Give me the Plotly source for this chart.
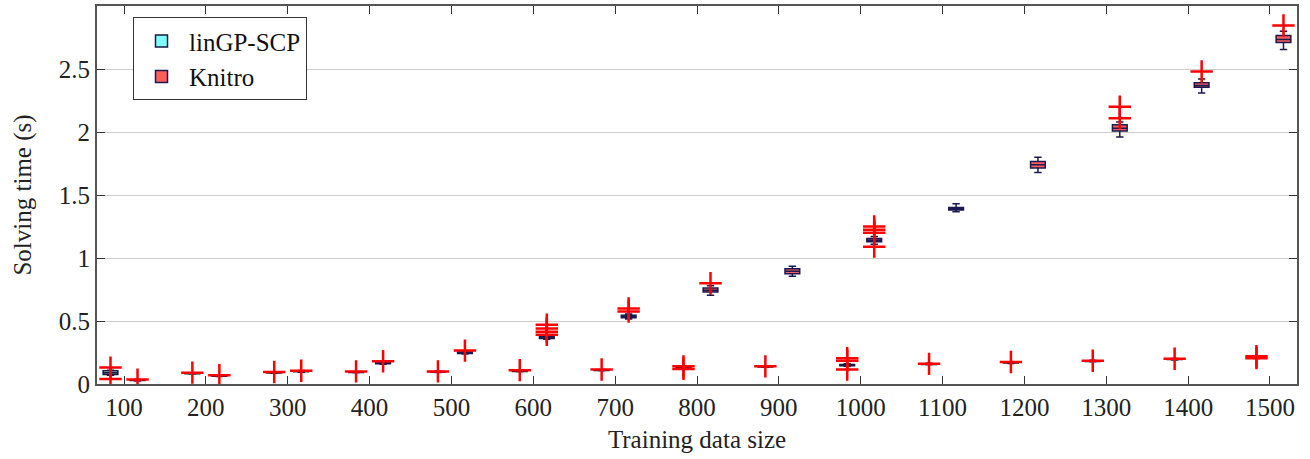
import plotly.graph_objects as go

sizes = [100, 200, 300, 400, 500, 600, 700, 800, 900, 1000, 1100, 1200, 1300, 1400, 1500]

# linGP-SCP box statistics (s)
lin_median = [0.090, 0.085, 0.090, 0.095, 0.097, 0.103, 0.110, 0.130, 0.137, 0.150, 0.158, 0.169, 0.182, 0.197, 0.210]
lin_q1 = [0.075, 0.082, 0.087, 0.092, 0.094, 0.100, 0.107, 0.126, 0.134, 0.145, 0.155, 0.166, 0.179, 0.194, 0.206]
lin_q3 = [0.105, 0.088, 0.093, 0.098, 0.100, 0.106, 0.113, 0.134, 0.140, 0.155, 0.161, 0.172, 0.185, 0.200, 0.214]
lin_low = [0.070, 0.080, 0.085, 0.090, 0.092, 0.098, 0.105, 0.122, 0.132, 0.140, 0.152, 0.163, 0.176, 0.191, 0.202]
lin_high = [0.110, 0.090, 0.095, 0.100, 0.102, 0.108, 0.115, 0.138, 0.142, 0.160, 0.164, 0.175, 0.188, 0.203, 0.218]
lin_outliers = [[0.04, 0.13], [0.09], [0.095], [0.10], [0.10], [0.11], [0.115],
                [0.12, 0.14], [0.14], [0.115, 0.185, 0.205], [0.16], [0.175], [0.185],
                [0.20], [0.205, 0.22]]

# Knitro box statistics (s)
kn_median = [0.030, 0.065, 0.100, 0.165, 0.248, 0.370, 0.535, 0.745, 0.895, 1.140, 1.390, 1.740, 2.030, 2.370, 2.735]
kn_q1 = [0.027, 0.062, 0.097, 0.160, 0.243, 0.362, 0.525, 0.730, 0.875, 1.128, 1.380, 1.715, 2.008, 2.355, 2.710]
kn_q3 = [0.034, 0.068, 0.104, 0.170, 0.254, 0.380, 0.545, 0.762, 0.915, 1.155, 1.400, 1.765, 2.058, 2.390, 2.765]
kn_low = [0.024, 0.060, 0.094, 0.156, 0.238, 0.355, 0.515, 0.705, 0.855, 1.110, 1.368, 1.678, 1.960, 2.310, 2.655]
kn_high = [0.038, 0.071, 0.108, 0.174, 0.258, 0.385, 0.555, 0.780, 0.935, 1.170, 1.430, 1.800, 2.080, 2.420, 2.800]
kn_outliers = [[0.035], [0.07], [0.105], [0.18], [0.265], [0.39, 0.415, 0.44, 0.47],
               [0.575, 0.60], [0.80], [], [1.09, 1.20, 1.225, 1.25], [], [], [2.11, 2.20],
               [2.48], [2.845]]

y_ticks = [0, 0.5, 1, 1.5, 2, 2.5]
y_ticktext = ["0", "0.5", "1", "1.5", "2", "2.5"]

OFFSET = 16.5
FONT = "Liberation Serif, Times New Roman, serif"

lin_x = [s - OFFSET for s in sizes]
kn_x = [s + OFFSET for s in sizes]

fig = go.Figure()

fig.add_trace(go.Box(
    name="linGP-SCP", x=lin_x, q1=lin_q1, median=lin_median, q3=lin_q3,
    lowerfence=lin_low, upperfence=lin_high, width=18, boxpoints=False,
    fillcolor="#80ffff", line=dict(color="#1a1a40", width=1.5), whiskerwidth=0.5,
))
fig.add_trace(go.Box(
    name="Knitro", x=kn_x, q1=kn_q1, median=kn_median, q3=kn_q3,
    lowerfence=kn_low, upperfence=kn_high, width=18, boxpoints=False,
    fillcolor="#ff5c5c", line=dict(color="#1a1a50", width=1.5), whiskerwidth=0.5,
))

ox, oy = [], []
for xs, outs in ((lin_x, lin_outliers), (kn_x, kn_outliers)):
    for xv, vals in zip(xs, outs):
        for v in vals:
            ox.append(xv)
            oy.append(v)
fig.add_trace(go.Scatter(
    x=ox, y=oy, mode="markers", showlegend=False, hoverinfo="skip",
    marker=dict(symbol="cross-thin", size=16, line=dict(color="#ff0000", width=2.5)),
))

fig.update_layout(
    width=1310, height=459,
    margin=dict(l=97, r=13, t=6, b=75, autoexpand=False),
    paper_bgcolor="white", plot_bgcolor="white",
    font=dict(family=FONT, size=25, color="#222"),
    showlegend=True,
    legend=dict(x=0.03, y=0.97, xanchor="left", yanchor="top",
                bgcolor="white", bordercolor="#333", borderwidth=1,
                font=dict(family=FONT, size=25, color="#111"),
                tracegroupgap=0, itemwidth=45),
    boxmode="overlay",
)
fig.update_xaxes(
    range=[67, 1533], tickvals=sizes, ticktext=[str(s) for s in sizes],
    ticks="inside", ticklen=8, tickcolor="#333", tickwidth=1,
    showline=True, linecolor="#555", linewidth=2, mirror="ticks",
    showgrid=False, zeroline=False, automargin=False,
    title=dict(text="Training data size", standoff=10, font=dict(family=FONT, size=25)),
    tickfont=dict(family=FONT, size=25),
)
fig.update_yaxes(
    range=[0, 3.0], tickvals=y_ticks, ticktext=y_ticktext,
    ticks="inside", ticklen=8, tickcolor="#333", tickwidth=1,
    showline=True, linecolor="#555", linewidth=2, mirror="ticks",
    showgrid=True, gridcolor="#cccccc", gridwidth=1, zeroline=False, automargin=False,
    title=dict(text="Solving time (s)", standoff=20, font=dict(family=FONT, size=25)),
    tickfont=dict(family=FONT, size=25),
)

fig.write_html("out.html", config={"displayModeBar": False},
               post_script="document.body.style.margin='0px';")
